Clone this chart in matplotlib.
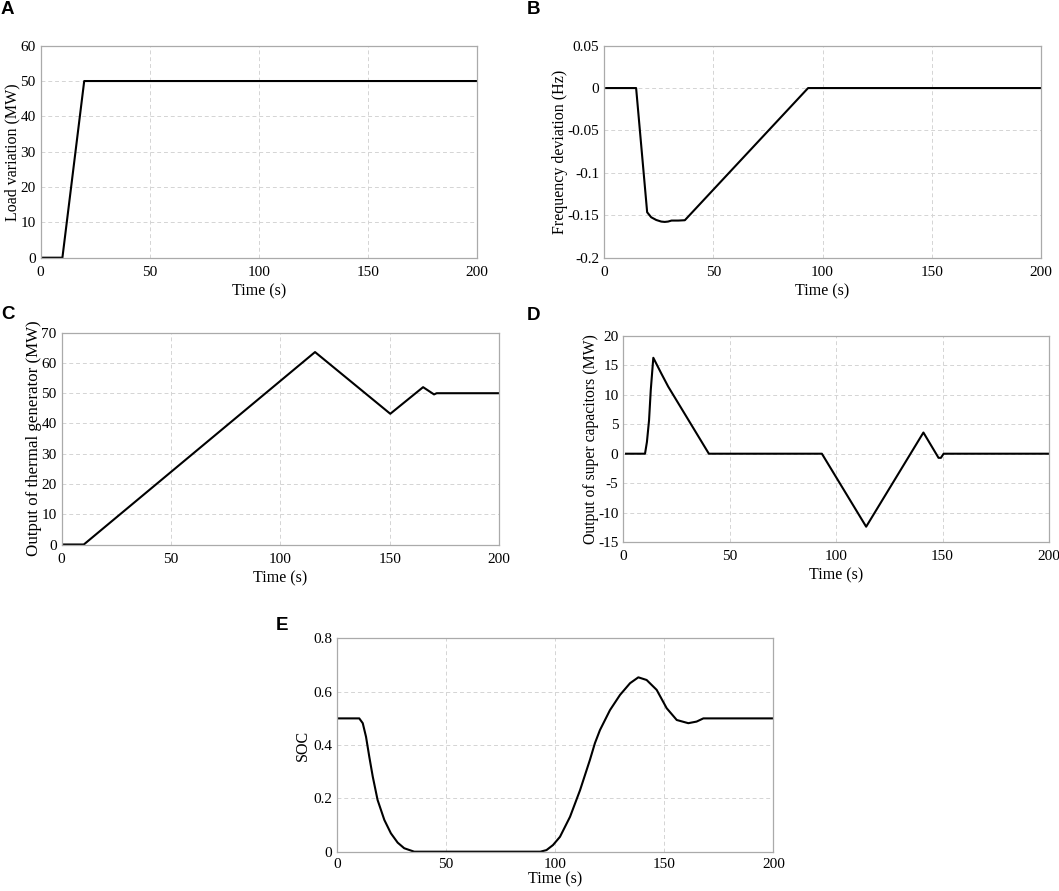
import matplotlib
matplotlib.use('Agg')
import matplotlib.pyplot as plt

plt.rcParams['font.family'] = ['Liberation Serif', 'DejaVu Serif']
plt.rcParams['axes.unicode_minus'] = False

#Panel A: load variation
load_t = [1, 10, 20, 200]
load_mw = [0, 0, 50, 50]

#Panel B: frequency deviation
freq_t = [1, 14.7, 19.75, 21.6, 23.9, 26.2, 27.8, 29.3, 30.9, 34, 37, 93.4, 200]
freq_hz = [0, 0, -0.1466, -0.1525, -0.1557, -0.1576, -0.158, -0.1576, -0.1564, -0.1564, -0.156, 0, 0]

#Panel C: thermal generator output
thermal_t = [1, 10.2, 115.9, 150.3, 165.3, 170.3, 171.5, 200]
thermal_mw = [0, 0, 63.6, 43.2, 52.0, 49.6, 50, 50]

#Panel D: super capacitor output
sc_t = [1.3, 10.2, 11.1, 12.1, 12.9, 14.1, 17.9, 21.1, 40.2, 93.3, 114.1, 141, 148.1, 149.2, 150.5, 200]
sc_mw = [0, 0, 2.0, 5.7, 10.8, 16.3, 13.6, 11.4, 0, 0, -12.4, 3.6, -0.7, -0.7, 0, 0]

#Panel E: state of charge
soc_t = [0, 10.2, 11.8, 13.3, 14.8, 16.4, 18.6, 21.7, 24.7, 27.8, 30.8, 35.4, 93.2, 96, 99,
         102.2, 106.8, 111.4, 115.9, 118.2, 120.5, 125.1, 129.7, 134.3, 138.1, 141.9, 146.5,
         151.1, 155.7, 161, 164.8, 167.9, 200]
soc = [0.5, 0.5, 0.482, 0.431, 0.356, 0.281, 0.194, 0.119, 0.069, 0.034, 0.013, 0, 0, 0.006, 0.025,
       0.056, 0.131, 0.231, 0.344, 0.407, 0.456, 0.531, 0.588, 0.632, 0.654, 0.644, 0.607,
       0.538, 0.494, 0.482, 0.488, 0.5, 0.5]

W, H = 1059, 891
fig = plt.figure(figsize=(W / 100, H / 100), dpi=100)

def make_panel(box, t, y, ylim, yticks, ylabel, label_px, yfmt=None, ylabel_size=11.5,
               xpad=6, xlabelpad=3):
    #box is left, top, right, bottom in pixels
    l, top, r, b = box
    ax = fig.add_axes([l / W, 1 - b / H, (r - l) / W, (b - top) / H])
    ax.plot(t, y, color='black', lw=1.5)
    ax.set_xlim(0, 200)
    ax.set_xticks([0, 50, 100, 150, 200])
    ax.set_ylim(*ylim)
    ax.set_yticks(yticks)
    if yfmt is not None:
        ax.set_yticklabels(yfmt)
    ax.grid(True, color='#d4d4d4', linestyle=(0, (4, 3)), lw=0.7)
    for s in ax.spines.values():
        s.set_color('#aaaaaa')
        s.set_linewidth(0.9)
    ax.tick_params(length=0, labelsize=11)
    ax.tick_params(axis='x', pad=xpad)
    ax.tick_params(axis='y', pad=3.5)
    ax.set_xlabel('Time (s)', fontsize=11.5, labelpad=xlabelpad)
    ax.set_ylabel(ylabel, fontsize=ylabel_size)
    ax.yaxis.set_label_coords((label_px - l) / (r - l), 0.5)
    ax.yaxis.label.set_verticalalignment('center')
    return ax

make_panel((40.6, 45.7, 476.7, 257.7), load_t, load_mw, (0, 60),
           [0, 10, 20, 30, 40, 50, 60], 'Load variation (MW)', 12)
make_panel((604, 45.7, 1041, 257.5), freq_t, freq_hz, (-0.2, 0.05),
           [-0.2, -0.15, -0.1, -0.05, 0, 0.05], 'Frequency deviation (Hz)', 560.5,
           ['-0.2', '-0.15', '-0.1', '-0.05', '0', '0.05'])
make_panel((61.5, 332.7, 499, 544.5), thermal_t, thermal_mw, (0, 70),
           [0, 10, 20, 30, 40, 50, 60, 70], 'Output of thermal generator (MW)', 34,
           ylabel_size=12.2)
make_panel((623.3, 336, 1049, 542), sc_t, sc_mw, (-15, 20),
           [-15, -10, -5, 0, 5, 10, 15, 20], 'Output of super capacitors (MW)', 591,
           ylabel_size=11.3)
make_panel((337, 638.4, 773.4, 851.7), soc_t, soc, (0, 0.8),
           [0, 0.2, 0.4, 0.6, 0.8], 'SOC', 303, ['0', '0.2', '0.4', '0.6', '0.8'],
           xpad=4.5, xlabelpad=0)

#Panel letters
letters = {'A': (1, 1), 'B': (527, 1), 'C': (1, 306), 'D': (527, 307), 'E': (276, 617)}
for k, (px, py) in letters.items():
    fig.text(px / W, 1 - py / H, k, fontsize=13.5, fontweight='bold',
             family=['Liberation Sans', 'DejaVu Sans'], ha='left', va='top')

fig.savefig('out.png', dpi=100)
